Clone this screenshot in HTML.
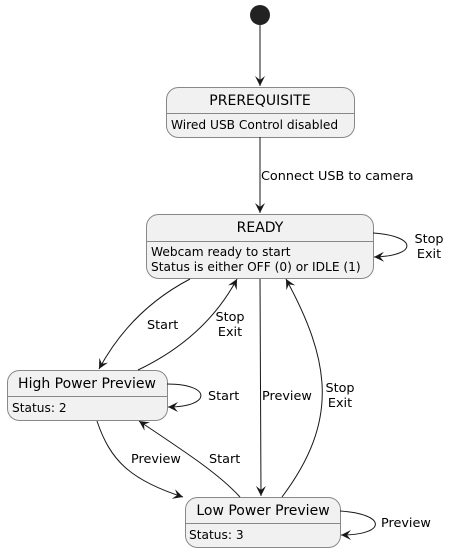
<!DOCTYPE html>
<html><head><style>body{margin:0;background:#fff}svg{display:block}text{font-family:"DejaVu Sans","Liberation Sans",sans-serif;fill:#000}</style></head>
<body>
<svg width="455" height="552" viewBox="0 0 455 552" xmlns="http://www.w3.org/2000/svg">
<defs>
<marker id="a" viewBox="0 0 10 10" refX="10" refY="5" markerWidth="10" markerHeight="10" markerUnits="userSpaceOnUse" orient="auto">
<path d="M0,0 L10,5 L0,10 L4,5 Z" fill="#181818"/>
</marker>
</defs>
<g fill="#F1F1F1" stroke="#888" stroke-width="1">
<rect x="166.5" y="87.5" width="188" height="50" rx="12"/>
<rect x="146.5" y="214.5" width="227" height="64" rx="12"/>
<rect x="7.5" y="370.5" width="160" height="50" rx="12"/>
<rect x="185.5" y="497.5" width="155" height="50" rx="12"/>
</g>
<g stroke="#888">
<line x1="166.5" y1="113.5" x2="354.5" y2="113.5"/>
<line x1="146.5" y1="241.5" x2="373.5" y2="241.5"/>
<line x1="7.5" y1="396.5" x2="167.5" y2="396.5"/>
<line x1="185.5" y1="523.5" x2="340.5" y2="523.5"/>
</g>
<circle cx="260" cy="15" r="10" fill="#222"/>
<g fill="none" stroke="#181818" stroke-width="1" marker-end="url(#a)">
<path d="M260,25 L260,86"/>
<path d="M260,137 L260,213"/>
<path d="M373,233 C418,236 418,256 374,257"/>
<path d="M190,279 C150,300 120,330 99,369"/>
<path d="M138,370 C180,350 215,320 237,279"/>
<path d="M260,279 L261,496"/>
<path d="M282,497 C340,420 330,360 286,279"/>
<path d="M167,384 C212,384 212,407 168,407"/>
<path d="M97,421 C110,460 130,480 183,497"/>
<path d="M240,497 C220,475 190,455 139,421"/>
<path d="M340,511 C387,514 387,535 341,535"/>
</g>
<g font-size="14" text-anchor="middle">
<text x="260" y="105">PREREQUISITE</text>
<text x="260" y="232">READY</text>
<text x="87" y="388">High Power Preview</text>
<text x="263" y="515">Low Power Preview</text>
</g>
<g font-size="12.2">
<text x="171" y="129">Wired USB Control disabled</text>
<text x="151" y="256">Webcam ready to start</text>
<text x="151" y="271">Status is either OFF (0) or IDLE (1)</text>
<text x="12" y="412">Status: 2</text>
<text x="189" y="539">Status: 3</text>
</g>
<g font-size="12.8">
<text x="261" y="180">Connect USB to camera</text>
<text x="147" y="329">Start</text>
<text x="262" y="400">Preview</text>
<text x="131" y="463">Preview</text>
<text x="209" y="463">Start</text>
<text x="208" y="400">Start</text>
<text x="381" y="527">Preview</text>
</g>
<g font-size="12.8" text-anchor="middle">
<text x="429" y="243">Stop</text><text x="429" y="258">Exit</text>
<text x="230" y="321">Stop</text><text x="230" y="336">Exit</text>
<text x="340" y="392">Stop</text><text x="340" y="407">Exit</text>
</g>
</svg>
</body></html>
